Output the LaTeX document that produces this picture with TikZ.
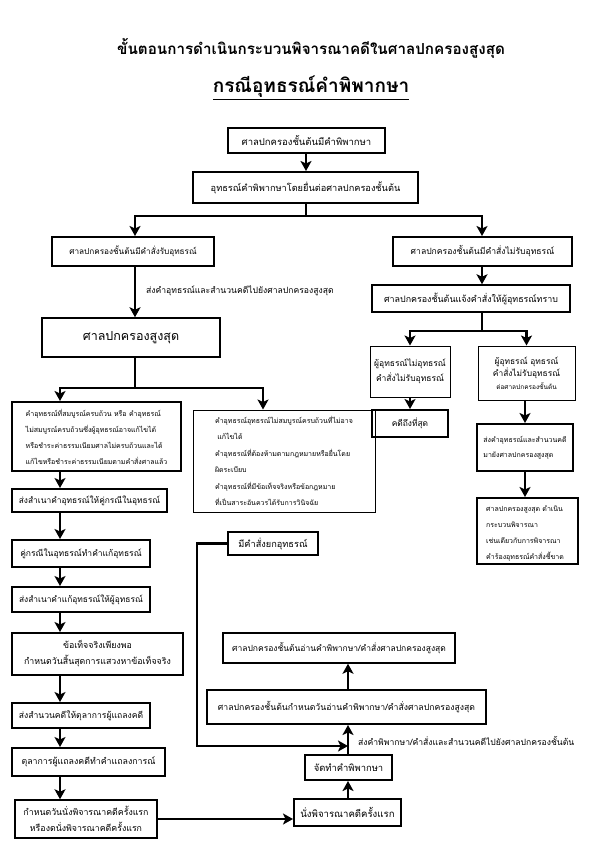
\documentclass[tikz,border=0pt]{standalone}
\usepackage{fontspec}
\newfontfamily\thai[Script=Thai]{Loma}
\usetikzlibrary{arrows.meta,calc}
\newcommand\fsz[1]{\fontsize{#1}{13}\selectfont}
\tikzset{
  box/.style={draw, line width=2pt, inner sep=2pt, align=center, font=\thai\fontsize{8.6}{13}\selectfont},
  tbox/.style={box, line width=1pt},
  mbox/.style={box, line width=1.5pt},
  arr/.style={line width=2.5pt, -{Stealth[length=10pt,width=11pt,inset=2.5pt]}},
  ln/.style={line width=2.5pt},
  lbl/.style={font=\thai\fontsize{8.6}{10}\selectfont, inner sep=0pt}
}
\begin{document}
\begin{tikzpicture}[x=1pt,y=-1pt]
\useasboundingbox (0,0) rectangle (595,842);
\fill[white] (0,0) rectangle (595,842);
% titles
\node[font=\thai\bfseries\fontsize{15.2}{17}\selectfont] (t1) at (311,48) {ขั้นตอนการดำเนินกระบวนพิจารณาคดีในศาลปกครองสูงสุด};
\node[font=\thai\bfseries\fontsize{19}{21}\selectfont] (t2) at (311,88) {\underline{กรณีอุทธรณ์คำพิพากษา}};
% boxes
\node[box, minimum width=157, minimum height=25, font=\thai\fsz{9.5}] (b1) at (306.5,140.5) {ศาลปกครองชั้นต้นมีคำพิพากษา};
\node[box, minimum width=225, minimum height=31, font=\thai\fsz{9.2}] (b2) at (305.5,187.5) {อุทธรณ์คำพิพากษาโดยยื่นต่อศาลปกครองชั้นต้น};
\node[box, minimum width=162, minimum height=29, font=\thai\fsz{8.2}] (b3) at (133,251.5) {ศาลปกครองชั้นต้นมีคำสั่งรับอุทธรณ์};
\node[box, minimum width=179, minimum height=29, font=\thai\fsz{8.6}] (b4) at (482.5,251.5) {ศาลปกครองชั้นต้นมีคำสั่งไม่รับอุทธรณ์};
\node[mbox, minimum width=198, minimum height=27, font=\thai\fsz{8.9}] (b5) at (471,298.5) {ศาลปกครองชั้นต้นแจ้งคำสั่งให้ผู้อุทธรณ์ทราบ};
\node[mbox, minimum width=178, minimum height=39, font=\thai\fontsize{12.5}{15}\selectfont] (b6) at (131,337.5) {ศาลปกครองสูงสุด};
\node[tbox, minimum width=80, minimum height=51, font=\thai\fontsize{8.5}{15}\selectfont] (b7) at (410,371.5) {ผู้อุทธรณ์ไม่อุทธรณ์\\คำสั่งไม่รับอุทธรณ์};
\node[tbox, minimum width=97, minimum height=54, font=\thai\fontsize{8.4}{12.5}\selectfont] (b8) at (526.5,373) {ผู้อุทธรณ์ อุทธรณ์\\คำสั่งไม่รับอุทธรณ์\\{\fontsize{6.5}{8}\selectfont ต่อศาลปกครองชั้นต้น}};
\node[box, minimum width=76, minimum height=27, font=\thai\fsz{8.4}] (b9) at (410,423.5) {คดีถึงที่สุด};
\node[box, minimum width=169, minimum height=69, align=left, font=\thai\fontsize{7}{16}\selectfont] (b10) at (96.5,436.5) {คำอุทธรณ์ที่สมบูรณ์ครบถ้วน หรือ คำอุทธรณ์\\ไม่สมบูรณ์ครบถ้วนซึ่งผู้อุทธรณ์อาจแก้ไขได้\\หรือชำระค่าธรรมเนียมศาลไม่ครบถ้วนและได้\\แก้ไขหรือชำระค่าธรรมเนียมตามคำสั่งศาลแล้ว};
\node[tbox, minimum width=182, minimum height=102, align=left, font=\thai\fontsize{7}{16.5}\selectfont] (b11) at (284,461) {คำอุทธรณ์อุทธรณ์ไม่สมบูรณ์ครบถ้วนที่ไม่อาจ\\\ แก้ไขได้\\คำอุทธรณ์ที่ต้องห้ามตามกฎหมายหรือยื่นโดย\\ผิดระเบียบ\\คำอุทธรณ์ที่มีข้อเท็จจริงหรือข้อกฎหมาย\\ที่เป็นสาระอันควรได้รับการวินิจฉัย};
\node[box, minimum width=96, minimum height=47, align=left, font=\thai\fontsize{7}{15}\selectfont] (b12) at (525,447.5) {ส่งคำอุทธรณ์และสำนวนคดี\\มายังศาลปกครองสูงสุด};
\node[box, minimum width=101, minimum height=66] (b13) at (527.5,531) {};
\begin{scope}
  \clip (b13.north west) rectangle (b13.south east);
  \node[anchor=north west, align=left, inner sep=0pt, font=\thai\fontsize{7}{16}\selectfont] (b13t) at ($(b13.north west)+(10,9)$) {ศาลปกครองสูงสุด ดำเนิน\\กระบวนพิจารณา\\เช่นเดียวกับการพิจารณา\\คำร้องอุทธรณ์คำสั่งชี้ขาด};
\end{scope}
\node[box, minimum width=155, minimum height=23, font=\thai\fsz{8.4}] (b14) at (89.5,500.5) {ส่งสำเนาคำอุทธรณ์ให้คู่กรณีในอุทธรณ์};
\node[box, minimum width=138, minimum height=27, font=\thai\fsz{8.5}] (b15) at (81,553.5) {คู่กรณีในอุทธรณ์ทำคำแก้อุทธรณ์};
\node[box, minimum width=138, minimum height=25, font=\thai\fsz{8.4}] (b16) at (81,599.5) {ส่งสำเนาคำแก้อุทธรณ์ให้ผู้อุทธรณ์};
\node[box, minimum width=171, minimum height=42, font=\thai\fontsize{8.8}{16}\selectfont] (b17) at (97.5,654) {ข้อเท็จจริงเพียงพอ\\กำหนดวันสิ้นสุดการแสวงหาข้อเท็จจริง};
\node[box, minimum width=138, minimum height=25, font=\thai\fsz{8.6}] (b18) at (81,715.5) {ส่งสำนวนคดีให้ตุลาการผู้แถลงคดี};
\node[box, minimum width=153, minimum height=28, font=\thai\fsz{8.8}] (b19) at (88.5,762) {ตุลาการผู้แถลงคดีทำคำแถลงการณ์};
\node[mbox, minimum width=142, minimum height=38, font=\thai\fontsize{8.8}{16}\selectfont] (b20) at (86,819) {กำหนดวันนั่งพิจารณาคดีครั้งแรก\\หรืองดนั่งพิจารณาคดีครั้งแรก};
\node[box, minimum width=90, minimum height=23, font=\thai\fsz{9.2}] (b21) at (273,543.5) {มีคำสั่งยกอุทธรณ์};
\node[mbox, minimum width=232, minimum height=30, font=\thai\fsz{8.5}] (b22) at (339,648) {ศาลปกครองชั้นต้นอ่านคำพิพากษา/คำสั่งศาลปกครองสูงสุด};
\node[box, minimum width=279, minimum height=34, font=\thai\fsz{8.7}] (b23) at (346.5,707) {ศาลปกครองชั้นต้นกำหนดวันอ่านคำพิพากษา/คำสั่งศาลปกครองสูงสุด};
\node[box, minimum width=87, minimum height=25, font=\thai\fsz{9.4}] (b24) at (348.5,767.5) {จัดทำคำพิพากษา};
\node[box, minimum width=107, minimum height=27, font=\thai\fsz{9.6}] (b25) at (347.5,812.5) {นั่งพิจารณาคดีครั้งแรก};
% column coordinates
\coordinate (cL) at (60,0);
\coordinate (cM) at (135,0);
\coordinate (cR) at (482,0);
\coordinate (cB) at (348,0);
\coordinate (j1) at (306,216);
\coordinate (j2) at (135,388);
\coordinate (j3) at (482,331);
\coordinate (m1) at (348,746);
% connectors top
\draw[arr] (b1.south -| j1) -- (b2.north -| j1);
\draw[ln] (b2.south -| j1) -- (j1);
\draw[arr] (j1) -| (b3.north -| cM);
\draw[arr] (j1) -| (b4.north -| cR);
\draw[arr] (b3.south -| cM) -- (b6.north -| cM);
\node[lbl, anchor=west] (l1) at (146,291) {ส่งคำอุทธรณ์และสำนวนคดีไปยังศาลปกครองสูงสุด};
% right branch
\draw[arr] (b4.south -| cR) -- (b5.north -| cR);
\draw[ln] (b5.south -| cR) -- (j3);
\draw[arr] (j3) -| (b7.north);
\draw[arr] (j3) -| (b8.north);
\draw[arr] (b7.south) -- (b9.north);
\draw[arr] (b8.south -| b12.north) -- (b12.north);
\draw[arr] (b12.south) -- (b13.north -| b12.south);
% left branch
\draw[ln] (b6.south -| cM) -- (j2);
\draw[arr] (j2) -| (b10.north -| cL);
\draw[arr] (j2) -| ($(b11.north)+(-21,0)$);
\draw[arr] (b10.south -| cL) -- (b14.north -| cL);
\draw[arr] (b14.south -| cL) -- (b15.north -| cL);
\draw[arr] (b15.south -| cL) -- (b16.north -| cL);
\draw[arr] (b16.south -| cL) -- (b17.north -| cL);
\draw[arr] (b17.south -| cL) -- (b18.north -| cL);
\draw[arr] (b18.south -| cL) -- (b19.north -| cL);
\draw[arr] (b19.south -| cL) -- (b20.north -| cL);
% bottom flow
\draw[arr] (b20.east) -- (b25.west |- b20.east);
\draw[arr] (b25.north -| cB) -- (b24.south -| cB);
\draw[arr] (b24.north -| cB) -- (b23.south -| cB);
\draw[arr] (b23.north -| cB) -- (b22.south -| cB);
\node[lbl, anchor=west] (l2) at (358,741) {ส่งคำพิพากษา/คำสั่งและสำนวนคดีไปยังศาลปกครองชั้นต้น};
\draw[arr] (b21.west) -- ++(-30,0) |- (m1);
\end{tikzpicture}
\end{document}
